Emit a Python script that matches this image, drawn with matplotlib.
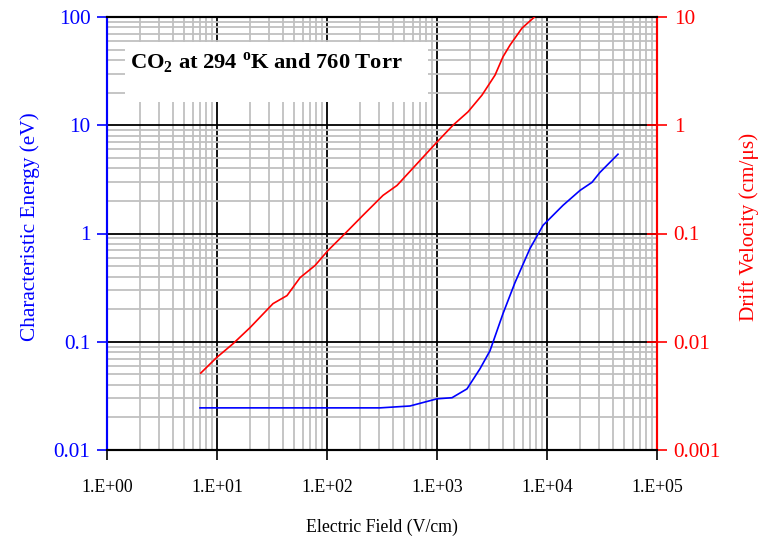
import matplotlib
matplotlib.use("Agg")
import matplotlib.pyplot as plt
from matplotlib.patches import Rectangle
from matplotlib.ticker import LogLocator, FixedLocator, FixedFormatter, NullFormatter

# Characteristic energy (eV) vs electric field (V/cm)
field_energy = [7.0, 50, 150, 303, 568, 1000, 1369, 1874, 2460, 3033, 3981, 5117,
                7000, 9200, 13970, 19950, 25650, 30300, 44200]
energy = [0.0245, 0.0245, 0.0245, 0.0245, 0.0255, 0.0297, 0.0304, 0.0367, 0.0563,
          0.0826, 0.182, 0.352, 0.726, 1.19, 1.82, 2.5, 2.97, 3.67, 5.4]

# Drift velocity (cm/us) vs electric field (V/cm)
field_velocity = [7.11, 9.94, 13.97, 19.95, 32.3, 43.3, 56.9, 77.8, 102, 146, 212,
                  323, 433, 1000, 1397, 1914, 2566, 3367, 3981, 4610, 5929, 7780]
velocity = [0.00513, 0.00716, 0.00958, 0.0135, 0.0225, 0.0267, 0.0391, 0.0506,
            0.0696, 0.1, 0.147, 0.225, 0.278, 0.70, 1.0, 1.33, 1.9, 2.9, 4.29,
            5.5, 7.9, 10.1]

x_ticks = [1, 10, 100, 1000, 10000, 100000]
x_tick_labels = ["1.E+00", "1.E+01", "1.E+02", "1.E+03", "1.E+04", "1.E+05"]
left_ticks = [0.01, 0.1, 1, 10, 100]
left_tick_labels = ["0.01", "0.1", "1", "10", "100"]
right_ticks = [0.001, 0.01, 0.1, 1, 10]
right_tick_labels = ["0.001", "0.01", "0.1", "1", "10"]

plt.rcParams['font.family'] = ['Liberation Serif', 'DejaVu Serif']
plt.rcParams['mathtext.fontset'] = 'custom'
plt.rcParams['mathtext.rm'] = 'Liberation Serif'
plt.rcParams['mathtext.bf'] = 'Liberation Serif:bold'

fsx = 12.8
fsy = 15.3
fig = plt.figure(figsize=(7.61, 5.39), dpi=100)
ax = fig.add_axes([107/761, 89/539, 550/761, 433/539])
ax2 = ax.twinx()

ax.set_xscale('log')
ax.set_yscale('log')
ax2.set_yscale('log')
ax.set_xlim(1, 1e5)
ax.set_ylim(0.01, 100)
ax2.set_ylim(0.001, 10)

ax.set_axisbelow(True)
ax.xaxis.set_major_locator(FixedLocator(x_ticks))
ax.xaxis.set_major_formatter(FixedFormatter(x_tick_labels))
ax.xaxis.set_minor_locator(LogLocator(base=10, subs=range(2, 10), numticks=20))
ax.xaxis.set_minor_formatter(NullFormatter())
ax.yaxis.set_major_locator(FixedLocator(left_ticks))
ax.yaxis.set_major_formatter(FixedFormatter(left_tick_labels))
ax.yaxis.set_minor_locator(LogLocator(base=10, subs=range(2, 10), numticks=20))
ax.yaxis.set_minor_formatter(NullFormatter())
ax2.yaxis.set_major_locator(FixedLocator(right_ticks))
ax2.yaxis.set_major_formatter(FixedFormatter(right_tick_labels))
ax2.yaxis.set_minor_locator(LogLocator(base=10, subs=range(2, 10), numticks=20))
ax2.yaxis.set_minor_formatter(NullFormatter())

ax.grid(which='minor', color='#c0c0c0', lw=1.3)
ax.grid(which='major', color='black', lw=1.3)

ax.tick_params(axis='x', which='major', direction='out', length=7, width=1.2,
               labelsize=fsx, colors='black', pad=14)
ax.tick_params(axis='y', which='major', direction='out', length=7, width=1.2,
               labelsize=fsy, colors='blue', pad=5)
ax.tick_params(which='minor', length=0)
ax2.tick_params(axis='y', which='major', direction='inout', length=14, width=1.2,
                labelsize=fsy, colors='red', pad=5)
ax2.tick_params(which='minor', length=0)

for a in (ax, ax2):
    a.spines['top'].set_color('black')
    a.spines['bottom'].set_color('black')
    a.spines['left'].set_color('blue')
    a.spines['right'].set_color('red')
    for s in a.spines.values():
        s.set_linewidth(1.5)

ax.plot(field_energy, energy, color='blue', lw=1.2, zorder=3)
ax2.plot(field_velocity, velocity, color='red', lw=1.2, zorder=3, clip_on=True)

ax.set_xlabel("Electric Field (V/cm)", fontsize=fsx, labelpad=16)
ax.set_ylabel("Characteristic Energy (eV)", fontsize=fsy, color='blue')
ax2.set_ylabel("Drift Velocity (cm/\u03bcs)", fontsize=fsy, color='red')
ax.yaxis.set_label_coords(-0.122, 0.515)
ax2.yaxis.set_label_coords(1.149, 0.515)

ax.add_patch(Rectangle((0.033, 0.804), 0.551, 0.138, transform=ax.transAxes,
                       facecolor='white', edgecolor='none', zorder=2))
ax.text(0.0418, 0.895, r"CO$_\mathbf{2}$ at 294 $^\mathbf{o}$K and 760 Torr",
        transform=ax.transAxes, fontsize=16.2, fontweight='bold',
        ha='left', va='center', zorder=4)

fig.savefig("out.png", dpi=100)
